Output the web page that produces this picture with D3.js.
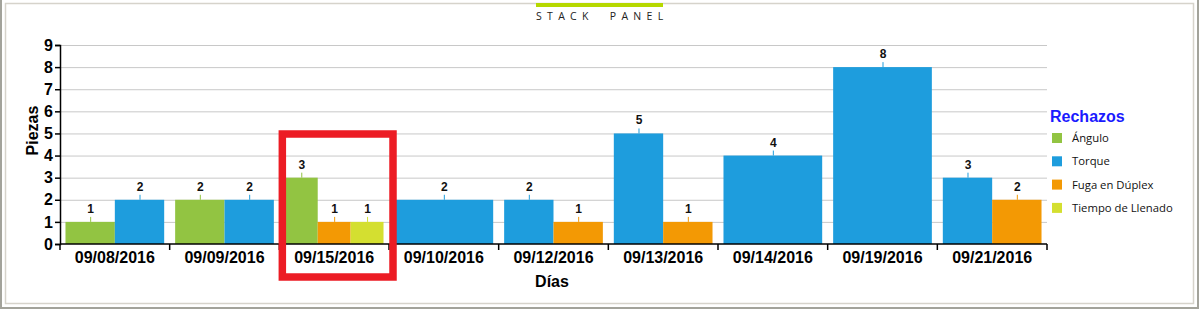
<!DOCTYPE html>
<html>
<head>
<meta charset="utf-8">
<script src="https://cdn.jsdelivr.net/npm/d3@7"></script>
<style>
  body { margin: 0; background: #fff; }
  svg { display: block; }
</style>
</head>
<body>
<svg id="chart"></svg>
<script>
const dias = ["09/08/2016", "09/09/2016", "09/15/2016", "09/10/2016", "09/12/2016",
              "09/13/2016", "09/14/2016", "09/19/2016", "09/21/2016"];
const seriesNames = ["Ángulo", "Torque", "Fuga en Dúplex", "Tiempo de Llenado"];
const seriesColors = ["#92c442", "#1e9ddd", "#f39904", "#d4df30"];
const angulo = [1, 2, 3, 0, 0, 0, 0, 0, 0];
const torque = [2, 2, 0, 2, 2, 5, 4, 8, 3];
const fuga = [0, 0, 1, 0, 1, 1, 0, 0, 2];
const tiempo = [0, 0, 1, 0, 0, 0, 0, 0, 0];
const yTicks = [0, 1, 2, 3, 4, 5, 6, 7, 8, 9];
const highlightDia = "09/15/2016";

const allSeries = [angulo, torque, fuga, tiempo];
const width = 1201, height = 310;
const plotLeft = 60, plotRight = 1047, plotTop = 45, plotBottom = 244;

const svg = d3.select("#chart").attr("width", width).attr("height", height);

// frames
svg.append("rect").attr("x", 1).attr("y", -5).attr("width", 1197).attr("height", 313)
    .attr("fill", "none").attr("stroke", "#a3a39b").attr("stroke-width", 2);
svg.append("rect").attr("x", 5.5).attr("y", 3.5).attr("width", 1188).attr("height", 300)
    .attr("fill", "none").attr("stroke", "#d6d3cb").attr("stroke-width", 1.5);

// title
svg.append("rect").attr("x", 536).attr("y", 3).attr("width", 127).attr("height", 4).attr("fill", "#b6d800");
svg.append("text").attr("x", 536).attr("y", 20)
    .attr("font-family", "Open Sans, sans-serif").attr("font-size", 10.5)
    .attr("letter-spacing", 5.3).attr("fill", "#222")
    .attr("xml:space", "preserve").style("white-space", "pre")
    .text("STACK  PANEL");

const x = d3.scaleBand().domain(dias).range([plotLeft, plotRight]).paddingInner(0.1).paddingOuter(0.05);
const y = d3.scaleLinear().domain([0, 9]).range([plotBottom, plotTop]);

// gridlines
svg.append("g").selectAll("line").data(yTicks.slice(1)).enter().append("line")
    .attr("x1", plotLeft).attr("x2", plotRight)
    .attr("y1", d => y(d) + 0.5).attr("y2", d => y(d) + 0.5)
    .attr("stroke", "#c8c8c8").attr("stroke-width", 1);

// bars
const bars = [];
dias.forEach((dia, i) => {
    const present = seriesNames.map((s, k) => k).filter(k => allSeries[k][i] > 0);
    const inner = d3.scaleBand().domain(present).range([x(dia), x(dia) + x.bandwidth()]);
    present.forEach(k => bars.push({ dia, k, v: allSeries[k][i], x0: inner(k), w: inner.bandwidth() }));
});

const g = svg.append("g");
g.selectAll("rect").data(bars).enter().append("rect")
    .attr("x", d => d.x0).attr("width", d => d.w)
    .attr("y", d => y(d.v)).attr("height", d => y(0) - y(d.v))
    .attr("fill", d => seriesColors[d.k]);

g.selectAll("line").data(bars).enter().append("line")
    .attr("x1", d => d.x0 + d.w / 2 + 0.5).attr("x2", d => d.x0 + d.w / 2 + 0.5)
    .attr("y1", d => y(d.v)).attr("y2", d => y(d.v) - 5)
    .attr("stroke", d => seriesColors[d.k]).attr("stroke-width", 1);

g.selectAll("text").data(bars).enter().append("text")
    .attr("x", d => d.x0 + d.w / 2 + 0.5).attr("y", d => y(d.v) - 9)
    .attr("text-anchor", "middle")
    .attr("font-family", "Liberation Sans, Arial, sans-serif").attr("font-size", 12).attr("font-weight", "bold")
    .attr("fill", "#111")
    .text(d => d.v);

// axes
const yAxis = svg.append("g").attr("transform", `translate(${plotLeft},0)`)
    .call(d3.axisLeft(y).tickValues(yTicks).tickSize(5).tickPadding(2).tickFormat(d3.format("d")));
const xAxis = svg.append("g").attr("transform", `translate(0,${plotBottom})`)
    .call(d3.axisBottom(x).tickSize(0).tickPadding(8));

[yAxis, xAxis].forEach(a => {
    a.select(".domain").attr("stroke", "#000").attr("stroke-width", 1.5);
    a.selectAll("text").attr("font-family", "Liberation Sans, Arial, sans-serif")
        .attr("font-size", 16).attr("font-weight", "bold").attr("fill", "#000");
    a.selectAll("line").attr("stroke", "#000").attr("stroke-width", 1.5);
});
xAxis.select(".domain").attr("d", `M${plotLeft},0H${plotRight}`);

// x boundary ticks between categories
const bounds = dias.map(d => x(d) - x.step() * x.paddingInner() / 2).concat([plotRight]);
xAxis.selectAll(".bound").data(bounds).enter().append("line").attr("class", "bound")
    .attr("x1", d => d).attr("x2", d => d).attr("y1", 0).attr("y2", 6)
    .attr("stroke", "#000").attr("stroke-width", 1.5);

// axis titles
svg.append("text").attr("transform", `translate(38,${(plotTop + plotBottom) / 2 - 14}) rotate(-90)`)
    .attr("text-anchor", "middle")
    .attr("font-family", "Liberation Sans, Arial, sans-serif").attr("font-size", 16).attr("font-weight", "bold")
    .text("Piezas");
svg.append("text").attr("x", 552).attr("y", 287).attr("text-anchor", "middle")
    .attr("font-family", "Liberation Sans, Arial, sans-serif").attr("font-size", 16).attr("font-weight", "bold")
    .text("Días");

// legend
const legend = svg.append("g").attr("transform", "translate(1050,0)");
legend.append("text").attr("x", 0).attr("y", 122)
    .attr("font-family", "Liberation Sans, Arial, sans-serif").attr("font-size", 16).attr("font-weight", "bold")
    .attr("fill", "#1a1aff").text("Rechazos");
const items = legend.selectAll(".item").data(seriesNames).enter().append("g").attr("class", "item")
    .attr("transform", (d, i) => `translate(0,${138 + i * 23.3})`);
items.append("rect").attr("x", 2).attr("y", -5).attr("width", 10).attr("height", 10)
    .attr("fill", (d, i) => seriesColors[i]);
items.append("text").attr("x", 22).attr("y", 4)
    .attr("font-family", "Open Sans, sans-serif").attr("font-size", 11.3).attr("fill", "#111")
    .text(d => d);

// highlight
const hx = x(highlightDia) - x.step() * x.paddingInner() / 2;
svg.append("rect").attr("x", hx + 3).attr("y", 134).attr("width", x.step() + 1).attr("height", 143)
    .attr("fill", "none").attr("stroke", "#ec1c24").attr("stroke-width", 7.5);
</script>
</body>
</html>
